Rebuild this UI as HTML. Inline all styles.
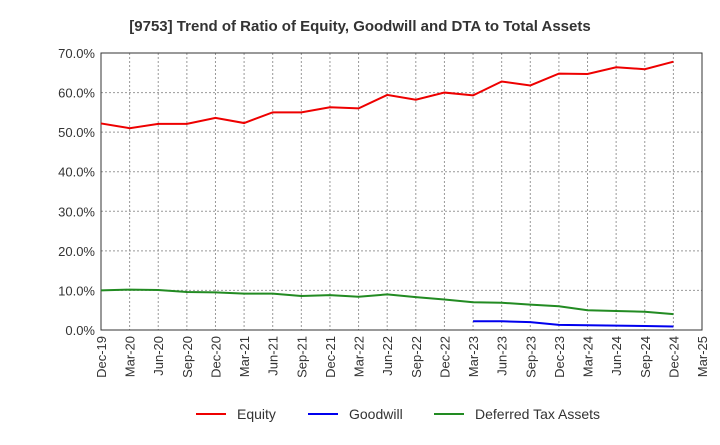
<!DOCTYPE html>
<html><head><meta charset="utf-8"><style>
body{margin:0;background:#fff;font-family:"Liberation Sans",sans-serif}
</style></head><body>
<svg id="chart" width="720" height="440" xmlns="http://www.w3.org/2000/svg">
<text x="360" y="31" text-anchor="middle" font-size="15" font-weight="bold" fill="#333">[9753]  Trend of Ratio of Equity, Goodwill and DTA to Total Assets</text>
<g id="grid"></g><g id="axes"></g><g id="series"></g>
<g>
<line x1="196" y1="414" x2="226" y2="414" stroke="#e00" stroke-width="2"/><text x="237" y="419" font-size="14" fill="#333">Equity</text>
<line x1="308" y1="414" x2="338" y2="414" stroke="#00e" stroke-width="2"/><text x="349" y="419" font-size="14" fill="#333">Goodwill</text>
<line x1="434" y1="414" x2="464" y2="414" stroke="#228b22" stroke-width="2"/><text x="475" y="419" font-size="14" fill="#333">Deferred Tax Assets</text>
</g>
</svg>
<script>
const categories=["Dec-19","Mar-20","Jun-20","Sep-20","Dec-20","Mar-21","Jun-21","Sep-21","Dec-21","Mar-22","Jun-22","Sep-22","Dec-22","Mar-23","Jun-23","Sep-23","Dec-23","Mar-24","Jun-24","Sep-24","Dec-24","Mar-25"];
const equity=[52.2,51.0,52.1,52.1,53.6,52.3,55.0,55.0,56.3,56.0,59.4,58.2,60.0,59.3,62.8,61.8,64.8,64.7,66.4,65.9,67.8];
const goodwill=[null,null,null,null,null,null,null,null,null,null,null,null,null,2.2,2.2,2.0,1.3,1.2,1.1,1.0,0.9];
const dta=[10.0,10.2,10.1,9.6,9.5,9.2,9.2,8.6,8.8,8.4,9.0,8.3,7.7,7.0,6.9,6.4,6.0,5.0,4.8,4.6,4.0];
const yTicks=[0,10,20,30,40,50,60,70];
const NS="http://www.w3.org/2000/svg";
const L=101,R=702,T=53,B=330;
const x=i=>L+(R-L)*i/(categories.length-1);
const y=v=>B-(B-T)*v/70;
function mk(tag,attrs,parent){const e=document.createElementNS(NS,tag);for(const k in attrs)e.setAttribute(k,attrs[k]);parent.appendChild(e);return e;}
const grid=document.getElementById('grid'),axes=document.getElementById('axes'),series=document.getElementById('series');
yTicks.forEach(v=>{
 const g=mk('line',{x1:L,x2:R,y1:y(v),y2:y(v),stroke:'#999','stroke-dasharray':'2,2'},grid);
 
 
 const t=mk('text',{x:L-6,y:y(v)+5,'text-anchor':'end','font-size':'13',fill:'#333'},axes);
 t.textContent=v.toFixed(1)+'%';
 
 
});
categories.forEach((c,i)=>{
 const g=mk('line',{x1:x(i),x2:x(i),y1:T,y2:B,stroke:'#999','stroke-dasharray':'2,2'},grid);
 
 
 const t=mk('text',{x:0,y:0,'text-anchor':'end','font-size':'13',fill:'#333',transform:`translate(${x(i)+5},${B+6}) rotate(-90)`},axes);
 t.textContent=c;
 
 
});
const fr=mk('rect',{x:L,y:T,width:R-L,height:B-T,fill:'none',stroke:'#333'},axes);


function line(data,color,name){
 let d='';data.forEach((v,i)=>{if(v==null)return;d+=(d?'L':'M')+x(i)+','+y(v);});
 const p=mk('path',{d:d,fill:'none',stroke:color,'stroke-width':2},series);
 
 
}
line(equity,'#e00','equity-line');
line(goodwill,'#00e','goodwill-line');
line(dta,'#228b22','dta-line');
</script>
</body></html>
